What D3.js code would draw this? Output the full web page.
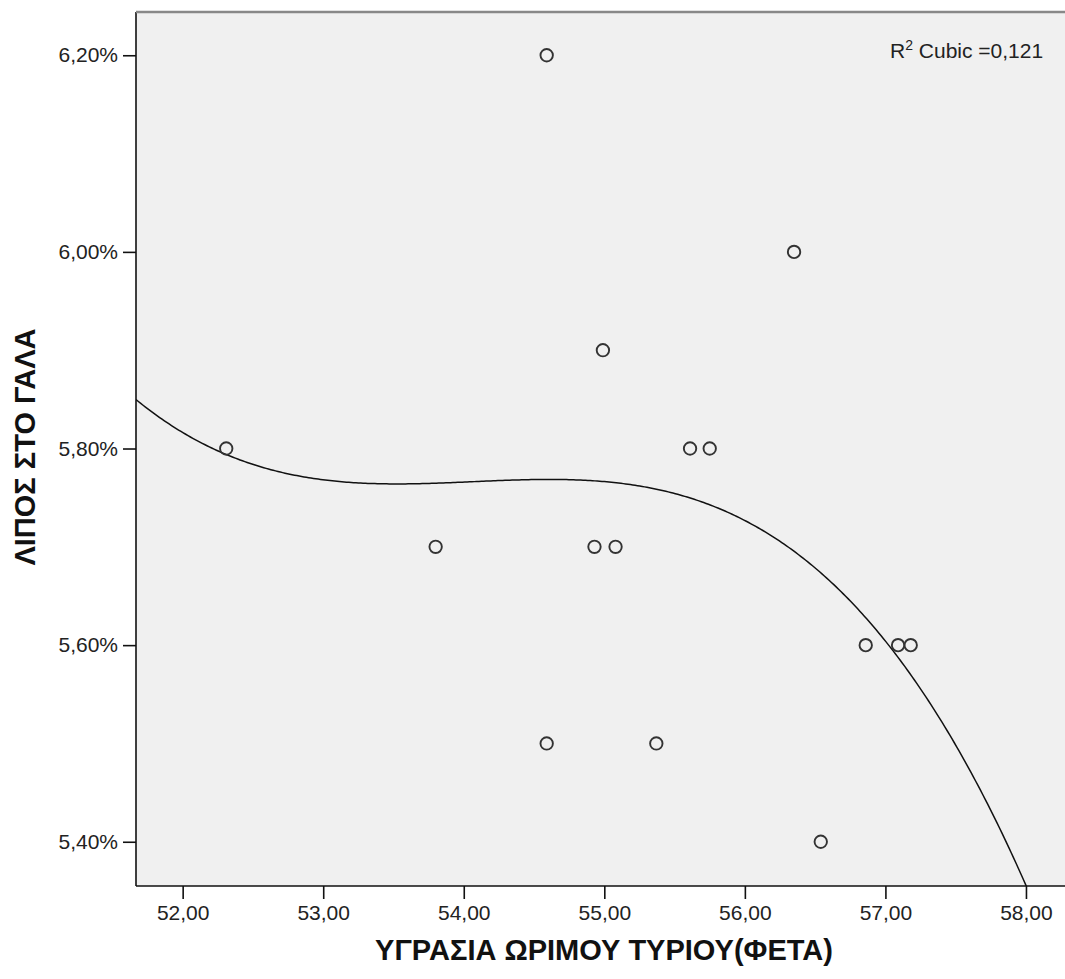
<!DOCTYPE html>
<html><head><meta charset="utf-8">
<script src="https://cdn.jsdelivr.net/npm/d3@7"></script>
<style>body{margin:0;background:#fff}svg{display:block}text{font-family:"Liberation Sans",Arial,sans-serif}</style>
</head><body><svg id="c" width="1065" height="979"></svg>
<script>
// data
const moisture = [52.31, 53.80, 54.59, 54.59, 54.93, 54.99, 55.08, 55.37, 55.61, 55.75, 56.35, 56.54, 56.86, 57.09, 57.18];
const fat      = [5.80, 5.70, 6.20, 5.50, 5.70, 5.90, 5.70, 5.50, 5.80, 5.80, 6.00, 5.40, 5.60, 5.60, 5.60];
const xTicks = [52, 53, 54, 55, 56, 57, 58];
const yTicks = [5.4, 5.6, 5.8, 6.0, 6.2];
const xTitle = "ΥΓΡΑΣΙΑ ΩΡΙΜΟΥ ΤΥΡΙΟΥ(ΦΕΤΑ)";
const yTitle = "ΛΙΠΟΣ ΣΤΟ ΓΑΛΑ";
const r2Label = "0,121";

const svg = d3.select("#c");
const L = 136, T = 12, B = 886;
const x = d3.scaleLinear().domain([51.668, 58.30]).range([L, L + (58.30 - 51.668) * 140.55]);
const y = d3.scaleLinear().domain([5.355, 6.244]).range([B, T]);

svg.append("rect").attr("x", L).attr("y", T).attr("width", 1065 - L + 5).attr("height", B - T).attr("fill", "#f0f0f0");

// cubic least-squares fit
function fitCubic(xs, ys) {
  const m = d3.mean(xs);
  const n = 4, A = Array.from({length: n}, () => Array(n + 1).fill(0));
  xs.forEach((xv, i) => {
    const t = xv - m, p = [1, t, t * t, t * t * t];
    for (let a = 0; a < n; a++) { for (let b = 0; b < n; b++) A[a][b] += p[a] * p[b]; A[a][n] += p[a] * ys[i]; }
  });
  for (let c = 0; c < n; c++) {
    let piv = c; for (let r = c + 1; r < n; r++) if (Math.abs(A[r][c]) > Math.abs(A[piv][c])) piv = r;
    [A[c], A[piv]] = [A[piv], A[c]];
    for (let r = 0; r < n; r++) if (r !== c) { const f = A[r][c] / A[c][c]; for (let k = c; k <= n; k++) A[r][k] -= f * A[c][k]; }
  }
  const co = A.map((row, i) => row[n] / row[i]);
  return xv => { const t = xv - m; return co[0] + co[1] * t + co[2] * t * t + co[3] * t * t * t; };
}
const f = fitCubic(moisture, fat);
svg.append("clipPath").attr("id", "clip").append("rect").attr("x", L).attr("y", T).attr("width", 1065 - L).attr("height", B - T);
const xs = d3.range(0, 401).map(i => 51.668 + i * (58.4 - 51.668) / 400);
svg.append("path").attr("clip-path", "url(#clip)")
  .attr("d", d3.line().x(d => x(d)).y(d => y(f(d)))(xs))
  .attr("fill", "none").attr("stroke", "#111").attr("stroke-width", 1.5);

// points
svg.append("g").selectAll("circle").data(moisture.map((m, i) => [m, fat[i]])).join("circle")
  .attr("cx", d => x(d[0])).attr("cy", d => y(d[1])).attr("r", 6.2)
  .attr("fill", "none").attr("stroke", "#333").attr("stroke-width", 1.9);

// axes
const fmtX = d => d.toFixed(2).replace(".", ",");
const fmtY = d => d.toFixed(2).replace(".", ",") + "%";
const gx = svg.append("g").attr("transform", `translate(0,${B})`)
  .call(d3.axisBottom(x).tickValues(xTicks).tickFormat(fmtX).tickSize(13).tickSizeOuter(0));
const gy = svg.append("g").attr("transform", `translate(${L},0)`)
  .call(d3.axisLeft(y).tickValues(yTicks).tickFormat(fmtY).tickSize(13).tickSizeOuter(0));
[gx, gy].forEach(g => {
  g.select(".domain").attr("stroke", "#111").attr("stroke-width", 1.6);
  g.selectAll(".tick line").attr("stroke", "#111").attr("stroke-width", 1.6);
  g.selectAll(".tick text").attr("fill", "#222").attr("font-size", 21).attr("font-family", "Liberation Sans, Arial, sans-serif");
});
gx.selectAll(".tick text").attr("dy", "0.85em");
gy.selectAll(".tick text").attr("dx", "-2");
gx.select(".domain").attr("d", `M${L},0H1065`);
gy.select(".domain").attr("d", `M0,${T}V${B}`);

// top border
svg.append("line").attr("x1", L).attr("x2", 1065).attr("y1", T).attr("y2", T).attr("stroke", "#888").attr("stroke-width", 2.5);

// titles
svg.append("text").attr("x", 604).attr("y", 960).attr("text-anchor", "middle")
  .attr("font-size", 29).attr("font-weight", "bold").attr("fill", "#111").text(xTitle);
svg.append("text").attr("transform", "translate(35,447) rotate(-90)").attr("text-anchor", "middle")
  .attr("font-size", 29).attr("font-weight", "bold").attr("fill", "#111").text(yTitle);

// R2 label
const t = svg.append("text").attr("x", 890).attr("y", 58).attr("font-size", 21).attr("fill", "#222");
t.append("tspan").text("R");
t.append("tspan").attr("font-size", 14).attr("dy", -8).text("2");
t.append("tspan").attr("dy", 8).text(" Cubic =" + r2Label);
</script></body></html>
